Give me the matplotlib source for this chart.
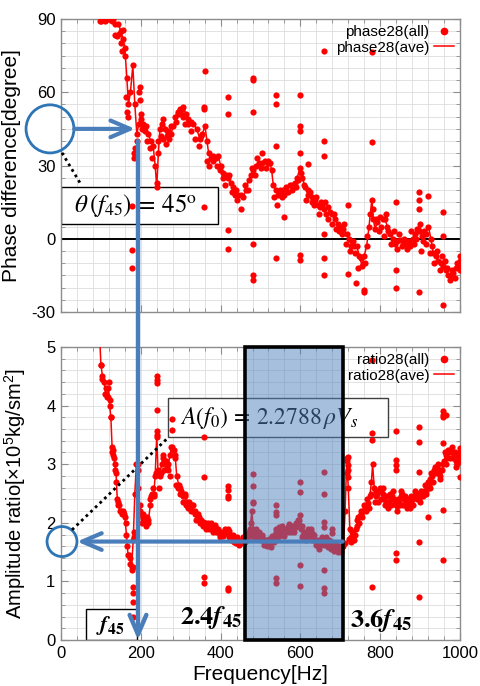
import numpy as np
import matplotlib
matplotlib.use("Agg")
import matplotlib.pyplot as plt
from matplotlib.patches import Rectangle, Ellipse, ConnectionPatch
from matplotlib.lines import Line2D
from matplotlib.ticker import MultipleLocator

plt.rcParams["font.family"] = ["Liberation Sans", "DejaVu Sans"]
plt.rcParams["axes.unicode_minus"] = False
plt.rcParams["mathtext.fontset"] = "custom"
plt.rcParams["mathtext.rm"] = "Liberation Sans"
plt.rcParams["mathtext.it"] = "Liberation Sans:italic"
plt.rcParams["mathtext.bf"] = "Liberation Sans:bold"

# ── phase difference (top) ───────────────────────────────────────────────────
phase_ave = [
    (98, 89), (105, 90), (112, 89.5), (120, 90), (128, 89), (136, 88), (144, 88),
    (150, 85), (155, 82), (160, 78), (165, 66), (169, 55), (174, 60), (180, 71),
    (185, 55), (190, 43), (195, 47), (200, 51), (206, 47), (212, 46), (219, 43),
    (225, 40), (231, 38), (236, 30), (240, 21), (244, 35), (248, 45), (252, 47),
    (256, 49), (261, 45), (265, 42), (270, 41), (276, 43), (281, 46), (287, 48),
    (293, 51), (298, 53), (303, 53), (307, 54), (313, 51), (319, 49), (326, 48),
    (332, 47), (340, 45), (348, 41), (354, 43), (361, 46), (366, 40), (370, 35),
    (376, 33), (382, 32), (388, 33), (394, 34), (400, 30), (407, 27), (413, 26),
    (419, 25), (425, 23), (432, 21), (438, 20), (444, 18), (450, 18), (457, 17),
    (463, 20), (470, 24), (476, 26), (482, 28), (488, 30), (495, 31), (503, 31),
    (511, 32), (518, 31), (524, 31), (528, 28), (532, 22), (538, 20), (545, 18),
    (551, 19), (557, 20), (565, 21), (574, 22), (580, 22), (586, 23), (592, 25),
    (599, 29), (605, 25), (612, 21), (618, 20), (624, 19), (630, 17), (637, 16),
    (643, 14), (649, 13), (655, 14), (662, 15), (668, 13), (674, 11), (680, 10),
    (687, 8), (693, 6), (699, 5), (707, 4), (716, 2), (722, 0), (728, -3),
    (735, -3), (741, -3), (748, -7), (754, -11), (760, -7), (766, -3), (772, 5),
    (779, 16), (783, 8), (787, 4), (793, 7), (800, 9), (806, 8), (812, 8),
    (818, 5), (825, 2), (831, 0), (837, -2), (843, -1), (850, -0.5), (856, -1),
    (862, -2), (868, -2), (875, -3), (881, 0), (887, 2), (893, 4), (900, 6),
    (904, 1), (908, -1), (914, 2), (921, 5), (927, 0), (933, -6), (940, -7),
    (946, -9), (952, -10), (958, -11), (965, -13), (971, -15), (977, -15),
    (983, -14), (990, -12), (996, -11), (1000, -9),
]
phase_near = [
    (100, 89), (110, 89), (130, 90), (135, 83.5), (140, 83), (145, 84), (150, 80),
    (152, 77), (156, 85.6), (160, 75), (163, 58), (165, 52), (168, 50), (182, 33),
    (184, 35), (186, 37), (190, 40), (196, 60), (200, 49), (204, 45), (210, 44),
    (215, 40), (222, 37), (228, 33), (240, 23), (244, 40), (250, 42), (255, 41),
    (262, 39), (268, 44), (275, 46), (285, 50), (292, 52), (300, 51), (305, 50),
    (310, 47), (318, 47), (325, 44), (335, 41), (345, 38), (352, 42), (365, 32),
    (372, 30), (380, 34), (390, 30), (398, 28), (405, 25), (412, 22), (420, 26),
    (428, 19), (436, 18), (442, 16), (450, 12), (460, 22), (468, 20), (478, 29),
    (485, 26), (492, 33), (500, 29), (505, 35), (515, 29), (520, 32), (535, 17),
    (542, 14), (548, 20), (555, 17), (560, 18), (570, 19), (578, 20), (590, 21),
    (595, 24), (602, 27), (608, 22), (615, 16), (620, 18), (628, 15), (635, 14),
    (640, 17), (646, 10), (652, 15), (658, 12), (664, 10), (670, 8), (678, 6),
    (684, 10), (690, 4), (696, 3), (704, 2), (710, 6), (715, -2), (725, -5),
    (732, -1), (738, -6), (745, -12), (752, -8), (762, -10), (768, 1), (775, 10),
    (782, 12), (790, 8), (796, 3), (803, 5), (810, 1), (815, 10), (820, 3),
    (828, -2), (835, 3), (842, -4), (848, 2), (855, -3), (860, 0), (866, -4),
    (872, -1), (878, 3), (884, -2), (890, 0), (896, 3), (902, -5), (910, 3),
    (916, -2), (924, -6), (930, -3), (936, -10), (942, -5), (950, -13), (955, -7),
    (962, -9), (968, -12), (975, -17), (980, -13), (987, -16), (993, -10), (999, -13),
]
phase_out = [
    (177, -4.5), (177, -12), (177, 13.5), (198, 62), (198, 57),
    (361, 68.5), (358, 54), (358, 53), (358, 13),
    (419, 58), (419, 51), (419, 3.4), (419, -4),
    (480, 66), (480, 65), (480, 52), (480, -2), (480, -15), (480, -17),
    (539, 59), (539, 55), (539, 38), (539, -8), (559, 9),
    (599, 59), (599, 46), (599, 44), (599, 35), (599, -6.5), (599, -8.6), (620, 30.6),
    (659, 77), (659, 40), (659, 34), (659, 2), (659, -8), (659, -15),
    (720, 14), (720, -14.5), (739, -18), (759, -21), (759, -22),
    (780, 76.5), (780, 39.5), (840, 15), (840, -13), (840, -20),
    (898, 19), (898, 16), (898, 12), (898, -22), (919, 17.6),
    (958, 11), (958, 1), (958, -27), (1000, -7),
]

# ── amplitude ratio (bottom) ─────────────────────────────────────────────────
ratio_ave = [
    (96, 5.3), (100, 4.7), (104, 4.5), (108, 4.4), (112, 4.2), (116, 4.15), (119, 4.3),
    (122, 4.0), (125, 3.8), (128, 3.3), (131, 3.15), (135, 3.0), (138, 2.85), (141, 2.4),
    (144, 2.3), (148, 2.2), (152, 2.15), (156, 2.18), (160, 2.1), (164, 1.8), (168, 1.45),
    (172, 1.4), (177, 1.25), (181, 1.7), (185, 2.5), (189, 3.0), (193, 2.6), (197, 2.3),
    (202, 2.0), (206, 2.15), (211, 2.05), (215, 2.1), (219, 2.05), (224, 2.3), (228, 2.5),
    (232, 2.45), (236, 2.8), (240, 3.5), (243, 2.9), (247, 2.8), (252, 3.0), (256, 3.1),
    (261, 3.05), (265, 2.95), (269, 3.0), (273, 3.15), (277, 3.3), (282, 3.25), (286, 3.15),
    (290, 2.8), (295, 2.65), (299, 2.6), (303, 2.5), (307, 2.45), (311, 2.45), (315, 2.35),
    (320, 2.3), (324, 2.28), (328, 2.3), (332, 2.2), (336, 2.15), (340, 2.13), (345, 2.1),
    (349, 2.05), (353, 2.0), (357, 2.02), (361, 2.0), (366, 1.95), (370, 1.93), (374, 1.95),
    (378, 1.9), (382, 1.93), (386, 1.92), (390, 1.9), (394, 1.85), (399, 1.8), (403, 1.82),
    (407, 1.8), (411, 1.85), (416, 1.88), (420, 1.86), (424, 1.8), (428, 1.78), (432, 1.75),
    (436, 1.72), (441, 1.7), (445, 1.68), (449, 1.68), (453, 1.7), (458, 1.72), (462, 1.75),
    (466, 1.8), (470, 1.78), (474, 1.9), (478, 2.2), (482, 1.9), (486, 1.82), (491, 1.85),
    (495, 1.8), (499, 1.78), (503, 1.75), (507, 1.72), (511, 1.68), (515, 1.65), (520, 1.67),
    (524, 1.65), (528, 1.7), (532, 1.75), (536, 1.8), (540, 1.85), (545, 1.82), (549, 1.85),
    (553, 1.88), (557, 1.9), (561, 1.85), (565, 1.88), (570, 1.92), (574, 1.93), (578, 1.92),
    (582, 1.9), (586, 1.95), (590, 2.0), (595, 2.05), (599, 2.13), (603, 1.95), (607, 1.8),
    (612, 1.76), (616, 1.8), (620, 1.85), (624, 1.88), (628, 1.82), (632, 1.75), (637, 1.7),
    (641, 1.62), (645, 1.6), (649, 1.62), (653, 1.7), (657, 1.72), (662, 1.7), (666, 1.66),
    (670, 1.64), (674, 1.65), (678, 1.62), (683, 1.6), (687, 1.58), (691, 1.57), (695, 1.55),
    (699, 1.54), (703, 1.55), (708, 1.6), (712, 2.2), (716, 3.05), (720, 2.6), (724, 1.9),
    (728, 1.75), (733, 1.72), (737, 1.8), (741, 1.95), (745, 2.1), (749, 2.12), (753, 2.15),
    (758, 2.2), (762, 2.25), (766, 2.3), (770, 2.33), (774, 2.45), (778, 2.7), (781, 3.0),
    (785, 2.6), (789, 2.45), (793, 2.5), (797, 2.55), (801, 2.55), (806, 2.5), (810, 2.4),
    (814, 2.35), (818, 2.3), (822, 2.35), (826, 2.4), (830, 2.45), (834, 2.4), (839, 2.3),
    (843, 2.28), (847, 2.35), (851, 2.45), (855, 2.5), (859, 2.4), (864, 2.35), (868, 2.33),
    (872, 2.3), (876, 2.35), (880, 2.4), (884, 2.45), (889, 2.5), (893, 2.45), (897, 2.4),
    (901, 2.45), (905, 2.5), (910, 2.55), (914, 2.55), (918, 2.6), (922, 2.65), (926, 2.75),
    (930, 2.8), (935, 2.9), (939, 2.95), (943, 2.95), (947, 2.85), (951, 2.8), (956, 2.9),
    (960, 3.05), (964, 3.15), (968, 3.1), (972, 3.2), (976, 3.25), (981, 3.2), (985, 3.15),
    (989, 3.05), (993, 3.0), (997, 3.1), (1000, 3.2),
]
ratio_near = [
    (100, 4.7), (102, 4.45), (110, 4.2), (113, 4.3), (117, 4.15), (120, 4.4), (122, 4.1),
    (125, 3.8), (128, 3.2), (131, 3.25), (133, 3.1), (136, 2.9), (139, 2.7), (142, 2.35),
    (145, 2.3), (150, 2.2), (155, 2.2), (158, 2.15), (162, 2.0), (165, 1.6), (170, 1.45),
    (174, 1.3), (178, 1.2), (182, 1.85), (184, 1.75), (192, 3.0), (194, 2.9), (197, 2.2),
    (205, 2.1), (210, 2.05), (213, 1.95), (218, 2.0), (222, 2.4), (226, 2.45), (230, 2.6),
    (234, 2.5), (238, 2.85), (246, 2.6), (250, 2.85), (255, 3.15), (258, 2.9), (262, 3.05),
    (267, 2.9), (272, 2.8), (276, 3.3), (280, 3.25), (285, 3.1), (289, 2.65), (293, 2.6),
    (298, 2.5), (302, 2.55), (306, 2.35), (310, 2.5), (314, 2.3), (318, 2.25), (322, 2.35),
    (326, 2.2), (330, 2.3), (335, 2.2), (339, 2.05), (343, 2.15), (348, 2.0), (352, 2.05),
    (356, 1.95), (360, 2.0), (364, 1.9), (368, 2.0), (372, 1.9), (376, 2.0), (380, 1.85),
    (385, 1.97), (389, 1.85), (393, 1.9), (398, 1.75), (402, 1.85), (406, 1.78), (410, 1.9),
    (414, 1.83), (418, 1.9), (422, 1.75), (426, 1.7), (430, 1.8), (434, 1.68), (438, 1.65),
    (442, 1.75), (446, 1.62), (450, 1.65), (455, 1.75), (460, 1.68), (464, 1.8), (468, 1.72),
    (472, 1.85), (476, 2.0), (480, 1.8), (484, 1.75), (488, 1.9), (493, 1.72), (497, 1.85),
    (501, 1.7), (505, 1.8), (509, 1.62), (513, 1.7), (517, 1.6), (522, 1.72), (526, 1.58),
    (530, 1.78), (534, 1.68), (538, 1.9), (543, 1.75), (547, 1.92), (551, 1.8), (555, 1.95),
    (559, 1.78), (563, 1.9), (568, 1.85), (572, 1.98), (576, 1.85), (580, 1.95), (584, 1.85),
    (588, 1.92), (593, 1.98), (597, 2.05), (601, 1.9), (605, 1.75), (609, 1.85), (614, 1.7),
    (618, 1.9), (622, 1.78), (626, 1.9), (630, 1.7), (634, 1.8), (639, 1.62), (643, 1.7),
    (647, 1.55), (651, 1.65), (655, 1.75), (660, 1.62), (664, 1.75), (668, 1.58), (672, 1.7),
    (676, 1.55), (680, 1.68), (685, 1.52), (689, 1.62), (693, 1.5), (697, 1.6), (701, 1.5),
    (705, 1.58), (712, 1.65), (716, 3.1), (718, 2.85), (722, 1.72), (726, 1.68), (730, 1.85),
    (735, 1.7), (739, 1.9), (743, 2.05), (747, 2.0), (751, 2.2), (755, 2.1), (760, 2.3),
    (764, 2.2), (768, 2.4), (772, 2.25), (776, 2.5), (786, 2.35), (790, 2.55), (795, 2.35),
    (799, 2.6), (803, 2.4), (808, 2.6), (812, 2.3), (816, 2.45), (820, 2.25), (824, 2.5),
    (828, 2.3), (832, 2.55), (837, 2.35), (841, 2.2), (845, 2.4), (849, 2.3), (853, 2.55),
    (857, 2.3), (862, 2.45), (866, 2.25), (870, 2.4), (874, 2.25), (878, 2.45), (882, 2.3),
    (887, 2.55), (891, 2.4), (895, 2.5), (899, 2.35), (903, 2.55), (907, 2.45), (912, 2.65),
    (916, 2.5), (920, 2.7), (924, 2.6), (928, 2.85), (932, 2.7), (937, 2.95), (941, 2.85),
    (945, 3.0), (949, 2.75), (953, 2.9), (958, 3.0), (962, 3.2), (966, 3.0), (970, 3.25),
    (974, 3.1), (979, 3.3), (983, 3.1), (987, 3.2), (991, 2.95), (995, 3.15), (999, 3.05),
]
ratio_out = [
    (240, 4.5), (240, 4.44), (240, 4.38), (240, 3.92), (240, 3.56), (240, 3.47),
    (279, 3.77), (279, 3.58), (180, 1.25), (180, 0.91), (180, 0.8), (180, 0.65), (180, 0.4),
    (359, 3.47), (359, 2.79), (359, 1.08), (359, 0.97),
    (419, 2.62), (419, 2.56), (419, 2.45), (419, 2.42), (419, 0.88), (419, 0.85),
    (480, 2.84), (480, 2.62), (480, 2.36), (480, 2.33),
    (539, 2.3), (539, 2.19), (539, 2.13), (539, 1.05), (539, 0.97),
    (599, 2.7), (599, 2.52), (599, 1.28), (599, 0.92),
    (659, 2.87), (659, 2.5), (659, 2.02), (659, 1.93), (659, 1.19), (659, 0.88), (659, 0.8),
    (678, 1.9), (678, 1.82), (720, 3.13), (720, 2.99), (720, 2.9), (720, 2.79),
    (780, 4.78), (780, 3.53), (780, 3.41), (780, 0.91),
    (840, 3.56), (840, 3.07), (840, 2.99), (840, 2.9), (840, 1.48), (840, 1.37),
    (898, 3.64), (898, 3.38), (898, 2.87), (898, 1.68), (898, 0.74), (919, 2.1),
    (958, 3.9), (958, 3.84), (958, 3.81), (958, 3.36), (958, 2.22), (958, 1.37), (965, 3.84),
    (1000, 2.79), (1000, 3.27),
]

F45 = 193          # Hz, where phase = 45 deg
A_LEVEL = 1.68     # averaged amplitude ratio in the band
BAND = (462, 706)  # 2.4 f45 .. 3.6 f45

RED = "#ff0000"
BLUE = "#4a7ebb"
CIRCLE = "#2e75b6"
GRID = "#dddddd"
SPINE = "#8c8c8c"


def unzip(pairs):
    a = np.array(pairs, dtype=float)
    return a[:, 0], a[:, 1]


def style_axes(ax, xmin, xmax, ymin, ymax, ymajor, yminor):
    ax.set_xlim(xmin, xmax)
    ax.set_ylim(ymin, ymax)
    ax.xaxis.set_major_locator(MultipleLocator(200))
    ax.xaxis.set_minor_locator(MultipleLocator(40))
    ax.yaxis.set_major_locator(MultipleLocator(ymajor))
    ax.yaxis.set_minor_locator(MultipleLocator(yminor))
    ax.grid(True, which="both", color=GRID, linewidth=0.6, zorder=0)
    ax.set_axisbelow(True)
    ax.tick_params(which="both", direction="in", top=True, right=True, color=SPINE)
    ax.tick_params(which="major", length=5, labelsize=12, pad=4)
    ax.tick_params(which="minor", length=3)
    for sp in ax.spines.values():
        sp.set_color(SPINE)
        sp.set_linewidth(1.0)


def draw_series(ax, ave, near, out, lab_all, lab_ave):
    fa, va = unzip(ave)
    fn, vn = unzip(near)
    fo, vo = unzip(out)
    ax.plot(fa, va, color=RED, lw=1.1, zorder=3)
    allf = np.concatenate([fa, fn, fo])
    allv = np.concatenate([va, vn, vo])
    ax.scatter(allf, allv, s=20, color=RED, lw=0, zorder=3)
    handles = [
        Line2D([], [], ls="none", marker="o", ms=4.5, color=RED, label=lab_all),
        Line2D([], [], color=RED, lw=1.1, label=lab_ave),
    ]
    leg = ax.legend(handles=handles, loc="upper right", markerfirst=False, frameon=False,
                    fontsize=11, handlelength=1.3, handletextpad=0.3, labelspacing=0.1,
                    borderaxespad=0.2, borderpad=0.2)
    leg.set_zorder(10)


fig = plt.figure(figsize=(4.8, 6.86), dpi=100)
ax1 = fig.add_axes([61 / 480, 1 - 312 / 686, 399 / 480, 293 / 686])
ax2 = fig.add_axes([61 / 480, 1 - 640 / 686, 399 / 480, 293 / 686])

# ── top panel ────────────────────────────────────────────────────────────────
style_axes(ax1, 0, 1000, -30, 90, 30, 5)
ax1.set_xticklabels([])
ax1.axhline(0, color="black", lw=1.4, zorder=2)
draw_series(ax1, phase_ave, phase_near, phase_out, "phase28(all)", "phase28(ave)")
ax1.set_ylabel("Phase difference[degree]", fontsize=15)
ax1.yaxis.set_label_coords(-0.1, 0.5)

ax1.add_patch(Rectangle((0, 6.1), 393, 15.2, fc="white", ec="black", lw=1.0, zorder=2))
ax1.text(186, 13.5, r"$\theta\,(f_{45})\,=\,45^{\mathrm{o}}$", fontsize=18,
         math_fontfamily="stix", ha="center", va="center", zorder=2.1)

ax1.add_patch(Ellipse((-27.6, 45), 120, 19.7, fill=False, ec=CIRCLE, lw=2.0,
                      clip_on=False, zorder=6))
ax1.annotate("", xy=(186, 45), xytext=(33, 45),
             arrowprops=dict(arrowstyle="->,head_length=1.4,head_width=0.6",
                             color=BLUE, lw=3.0, shrinkA=0, shrinkB=0),
             zorder=6, annotation_clip=False)
ax1.plot([2.5, 47.6], [35.2, 22.9], color="black", lw=2.0, ls=(0, (1, 1.3)),
         clip_on=False, zorder=6)

# ── bottom panel ─────────────────────────────────────────────────────────────
style_axes(ax2, 0, 1000, 0, 5, 1, 0.2)
draw_series(ax2, ratio_ave, ratio_near, ratio_out, "ratio28(all)", "ratio28(ave)")
ax2.set_xlabel("Frequency[Hz]", fontsize=15)
ax2.xaxis.set_label_coords(0.5, -0.085)
ax2.set_ylabel(r"Amplitude ratio[$\times$10$^5$kg/sm$^2$]", fontsize=14.5)
ax2.yaxis.set_label_coords(-0.083, 0.5)

ax2.add_patch(Rectangle((268, 3.46), 552, 0.67, fc="white", ec="#404040", lw=1.0, zorder=2))
ax2.text(298, 3.79, r"$A(f_0)\,=\,2.2788\,\rho V_s$", fontsize=17,
         math_fontfamily="stix", ha="left", va="center", zorder=2.1)

ax2.add_patch(Rectangle((BAND[0], 0), BAND[1] - BAND[0], 5,
                        fc=(79 / 255, 129 / 255, 189 / 255, 0.5), ec="black", lw=2.6,
                        clip_on=False, zorder=4))

ax2.add_patch(Rectangle((63, 0), 127, 0.53, fc="white", ec="black", lw=1.0, zorder=2))
ax2.text(123, 0.25, r"$\mathbfit{f}_{\mathbf{45}}$", fontsize=16,
         math_fontfamily="stix", ha="center", va="center", zorder=2.1)
ax2.text(375, 0.38, r"$\mathbf{2.4}\mathbfit{f}_{\mathbf{45}}$", fontsize=19,
         math_fontfamily="stix", ha="center", va="center", zorder=2.1)
ax2.text(802, 0.33, r"$\mathbf{3.6}\mathbfit{f}_{\mathbf{45}}$", fontsize=19,
         math_fontfamily="stix", ha="center", va="center", zorder=5)

ax2.annotate("", xy=(40, A_LEVEL), xytext=(BAND[1], A_LEVEL),
             arrowprops=dict(arrowstyle="->,head_length=1.4,head_width=0.6",
                             color=BLUE, lw=3.0, shrinkA=0, shrinkB=0),
             zorder=6, annotation_clip=False)
ax2.add_patch(Ellipse((2.5, A_LEVEL), 75, 0.512, fill=False, ec=CIRCLE, lw=2.0,
                      clip_on=False, zorder=6))
ax2.plot([27.6, 268], [1.88, 3.45], color="black", lw=2.0, ls=(0, (1, 1.3)),
         clip_on=False, zorder=6)

# vertical f45 line from the phase panel down to the frequency axis
con = ConnectionPatch(xyA=(F45, 40), coordsA=ax1.transData,
                      xyB=(F45, 0), coordsB=ax2.transData,
                      arrowstyle="->,head_length=1.4,head_width=0.6",
                      color=BLUE, lw=3.2, shrinkA=0, shrinkB=0, zorder=5)
fig.add_artist(con)

fig.savefig("out.png", dpi=100)
